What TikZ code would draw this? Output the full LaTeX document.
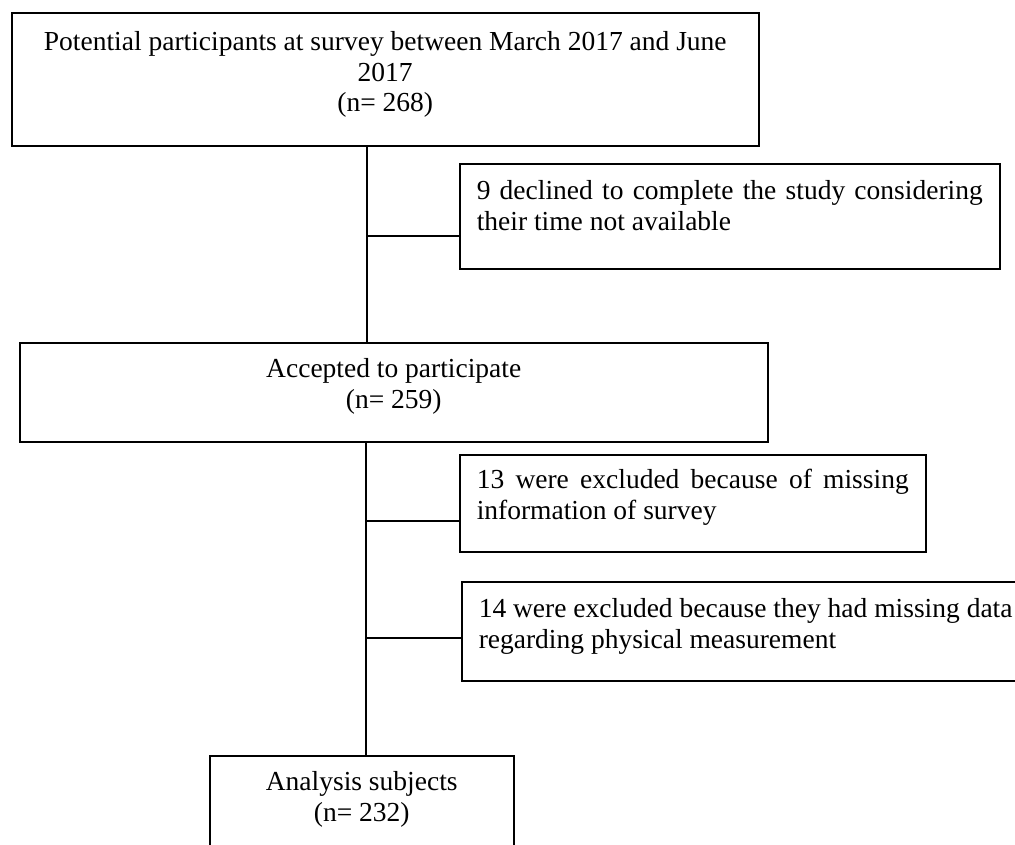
\documentclass[tikz,border=0pt]{standalone}
\usepackage{fontspec}
\setmainfont{Liberation Serif}
\newcommand{\bxtext}[5]{\parbox[c][#2][t]{#1}{\parindent=0pt #3\rule{0pt}{#4}#5}}
\newcommand{\jst}{\leftskip=17pt \rightskip=17pt \parfillskip=0pt plus 1fil }
\newcommand{\cnt}{\leftskip=0pt plus 1fil \rightskip=0pt plus 1fil \parfillskip=0pt }
\newcommand{\lft}{\leftskip=17pt \rightskip=0pt plus 1fil \parfillskip=0pt }
\tikzset{
  fbox/.style={draw=black, line width=1.5pt, inner sep=0pt, anchor=north west,
    font=\fontsize{27.5}{30.5}\selectfont},
  conn/.style={draw=black, line width=1.8pt}
}
\begin{document}
\begin{tikzpicture}[x=1pt, y=-1pt]
\useasboundingbox (0,0) rectangle (1015,844);
\node[fbox] (b1) at (11,12) {\bxtext{747pt}{133pt}{\cnt}{38pt}{Potential participants at survey between March 2017 and June\par 2017\par (n= 268)}};
\node[fbox] (b2) at (459,163) {\bxtext{540pt}{105pt}{\jst}{36pt}{9 declined to complete the study considering\linebreak their time not available}};
\node[fbox] (b3) at (19,342) {\bxtext{748pt}{99pt}{\cnt}{35pt}{Accepted to participate\par (n= 259)}};
\node[fbox] (b4) at (459,454) {\bxtext{466pt}{97pt}{\jst}{34pt}{13 were excluded because of missing\linebreak information of survey}};
\node[fbox] (b5) at (461,581) {\bxtext{579pt}{99pt}{\lft}{36pt}{14 were excluded because they had missing data\par regarding physical measurement}};
\node[fbox] (b6) at (209,755) {\bxtext{304pt}{115pt}{\cnt}{35pt}{Analysis subjects\par (n= 232)}};
\coordinate (j1) at (367,236);
\coordinate (j2) at (366,521);
\coordinate (j3) at (366,638);
\draw[conn] (j1 |- b1.south) -- (j1 |- b3.north);
\draw[conn] (j1) -- (j1 -| b2.west);
\draw[conn] (j2 |- b3.south) -- (j2 |- b6.north);
\draw[conn] (j2) -- (j2 -| b4.west);
\draw[conn] (j3) -- (j3 -| b5.west);
\end{tikzpicture}
\end{document}
